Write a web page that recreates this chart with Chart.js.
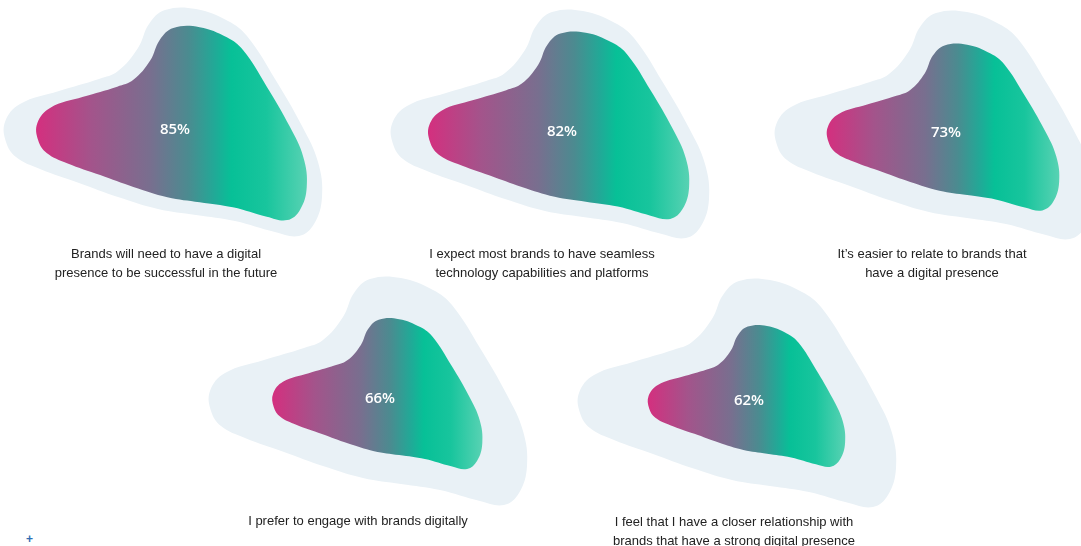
<!DOCTYPE html>
<html>
<head>
<meta charset="utf-8">
<script src="https://cdn.jsdelivr.net/npm/chart.js@4.4.1/dist/chart.umd.min.js"></script>
<style>
  html, body { margin: 0; padding: 0; background: #ffffff; }
  #stage { position: relative; width: 1081px; height: 546px; overflow: hidden; background: #ffffff; }
  canvas.blob { position: absolute; }
  .cap { position: absolute; width: 320px; text-align: center; font-family: "Liberation Sans", Arial, Helvetica, sans-serif;
         font-size: 13px; line-height: 19px; color: #222222; }
  .plus { position: absolute; left: 26px; top: 532px; font-family: "Liberation Sans", Arial, sans-serif; font-weight: bold;
          font-size: 12px; color: #2f6db3; }
</style>
</head>
<body>
<div id="stage"></div>
<script>
// ---- data ----
const values = [85, 82, 73, 66, 62];
const captions = [
  ["Brands will need to have a digital", "presence to be successful in the future"],
  ["I expect most brands to have seamless", "technology capabilities and platforms"],
  ["It\u2019s easier to relate to brands that", "have a digital presence"],
  ["I prefer to engage with brands digitally"],
  ["I feel that I have a closer relationship with", "brands that have a strong digital presence"]
];
const labelFormat = v => v + "%";

// ---- layout / style (not data) ----
const centers = [[175, 130], [562, 132], [946, 133], [380, 399], [749, 401]];
const captionPos = [[166, 244], [542, 244], [932, 244], [358, 511], [734, 512]];
const CANVAS_W = 360, CANVAS_H = 260;
// blob outline at 100% size, relative to label centre (px, y down)
const BLOB_SHAPE = [[29,85],[-9,79],[-49,67],[-88,53],[-127,39],[-151,27],[-161,12],[-162,-8],[-147,-26],
  [-108,-39],[-68,-51],[-49,-59],[-29,-82],[-18,-106],[-2,-120],[29,-121],[61,-109],[80,-94],[108,-51],
  [135,-4],[151,32],[155,67],[147,94],[132,106],[108,102],[68,91],[29,85]];
const OUTER_DX = -8;
const OUTER_COLOR = '#e9f1f6';
const GRADIENT_STOPS = [[0, '#d3307f'], [0.2, '#a3548b'], [0.42, '#786f8f'], [0.56, '#4b8b90'],
  [0.66, '#20aa97'], [0.72, '#07c097'], [0.85, '#18c59d'], [1, '#58d2b3']];

const stage = document.getElementById('stage');

const percentLabel = {
  id: 'percentLabel',
  afterDatasetsDraw(chart, args, opts) {
    const {ctx, scales} = chart;
    ctx.save();
    ctx.fillStyle = '#ffffff';
    ctx.font = '600 15px "Open Sans", "Noto Sans", sans-serif';
    ctx.textAlign = 'center';
    ctx.textBaseline = 'middle';
    ctx.fillText(opts.text, scales.x.getPixelForValue(0), scales.y.getPixelForValue(0));
    ctx.restore();
  }
};

values.forEach((v, i) => {
  const [cx, cy] = centers[i];
  const cv = document.createElement('canvas');
  cv.className = 'blob';
  cv.width = CANVAS_W; cv.height = CANVAS_H;
  cv.style.left = (cx - CANVAS_W / 2) + 'px';
  cv.style.top = (cy - CANVAS_H / 2) + 'px';
  cv.style.width = CANVAS_W + 'px'; cv.style.height = CANVAS_H + 'px';
  stage.appendChild(cv);

  const outer = BLOB_SHAPE.map(p => ({x: p[0] + OUTER_DX, y: p[1]}));
  const inner = BLOB_SHAPE.map(p => ({x: p[0] * v / 100, y: p[1] * v / 100}));

  const gradientFill = (context) => {
    const chart = context.chart;
    if (!chart.chartArea) return '#20aa97';
    const xs = chart.scales.x;
    const data = context.dataset.data;
    const minX = Math.min(...data.map(p => p.x));
    const maxX = Math.max(...data.map(p => p.x));
    const g = chart.ctx.createLinearGradient(xs.getPixelForValue(minX), 0, xs.getPixelForValue(maxX), 0);
    GRADIENT_STOPS.forEach(s => g.addColorStop(s[0], s[1]));
    return g;
  };

  new Chart(cv, {
    type: 'line',
    data: {
      datasets: [
        // dataset 0 is painted last (on top)
        { data: inner, backgroundColor: gradientFill, borderWidth: 0, fill: 'shape', pointRadius: 0, tension: 0.4, clip: false },
        { data: outer, backgroundColor: OUTER_COLOR, borderWidth: 0, fill: 'shape', pointRadius: 0, tension: 0.4, clip: false }
      ]
    },
    options: {
      responsive: false,
      devicePixelRatio: 1,
      animation: false,
      events: [],
      layout: { padding: 0 },
      scales: {
        x: { type: 'linear', min: -CANVAS_W / 2, max: CANVAS_W / 2, display: false },
        y: { type: 'linear', min: -CANVAS_H / 2, max: CANVAS_H / 2, reverse: true, display: false }
      },
      plugins: {
        legend: { display: false },
        tooltip: { enabled: false },
        percentLabel: { text: labelFormat(v) }
      }
    },
    plugins: [percentLabel]
  });

  const cap = document.createElement('div');
  cap.className = 'cap';
  cap.style.left = (captionPos[i][0] - 160) + 'px';
  cap.style.top = captionPos[i][1] + 'px';
  cap.innerHTML = captions[i].map(s => s.replace(/&/g, '&amp;')).join('<br>');
  stage.appendChild(cap);
});

const plus = document.createElement('div');
plus.className = 'plus';
plus.textContent = '+';
stage.appendChild(plus);
</script>
</body>
</html>
